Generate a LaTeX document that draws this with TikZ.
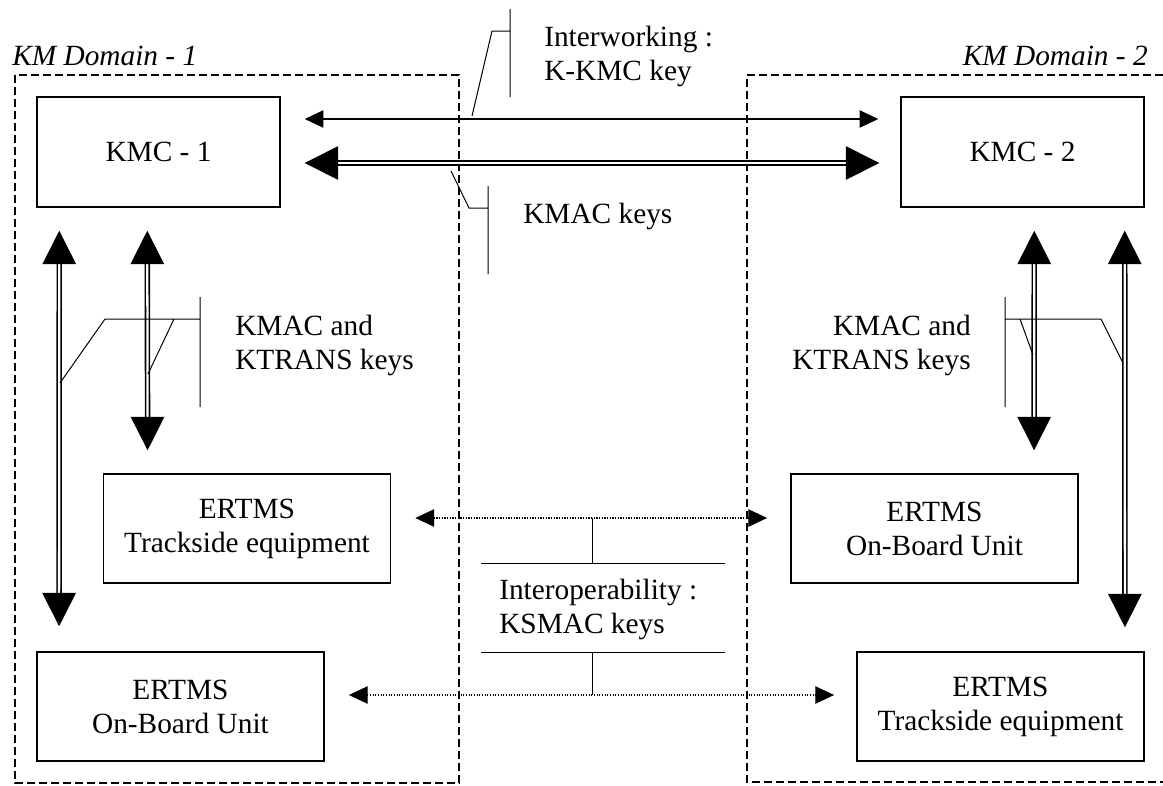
\documentclass[tikz,border=0pt]{standalone}
\usepackage{fontspec}
\setmainfont{Liberation Serif}
\usetikzlibrary{arrows.meta,calc}

\begin{document}
\begin{tikzpicture}[x=0.75pt,y=-0.75pt,
        every node/.style={font=\fontsize{22}{25.5}\selectfont,inner sep=0pt},
        kmc/.style={draw,line width=1.1pt,minimum width=182.25pt,minimum height=82.5pt},
        ertms/.style={draw,line width=1.1pt,minimum width=215.5pt,minimum height=81.75pt,align=center},
        kmdomain/.style={line width=1pt,dash pattern=on 6pt off 3pt},
        lead/.style={line width=0.75pt},
        keyarrow/.style={{Triangle[length=14pt,width=13pt]}-{Triangle[length=14pt,width=13pt]},line width=0.8pt},
        bigarrow/.style={{Triangle[length=25pt,width=25pt]}-{Triangle[length=25pt,width=25pt]},line width=1.2pt,double,double distance=1.7pt},
        airarrow/.style={keyarrow,dash pattern=on 0.8pt off 1.2pt}]

            \useasboundingbox (0,0) rectangle (1163,785);

            \draw[kmdomain] (15,75) rectangle (459,783);

            \draw[kmdomain] (1163,75) -- (747,75) -- (747,782) -- (1163,782);

            \node[anchor=base west,font=\fontsize{22}{25.5}\selectfont\itshape] (dom1) at (12,65) {KM Domain - 1};

            \node[anchor=base east,font=\fontsize{22}{25.5}\selectfont\itshape] (dom2) at (1148,65) {KM Domain - 2};

            \node[kmc] (kmc1) at (158.5,152) {KMC - 1};

            \node[kmc] (kmc2) at (1022.5,152) {KMC - 2};

            \node[ertms] (rbc1) at (247,528.5) {ERTMS\\Trackside equipment};

            \node[ertms] (obu2) at (934.5,528.5) {ERTMS\\On-Board Unit};

            \node[ertms] (obu1) at (180.5,706.5) {ERTMS\\On-Board Unit};

            \node[ertms] (rbc2) at (1000.5,706.5) {ERTMS\\Trackside equipment};

            \node[anchor=base west,align=left] (kkmc) at (544,80) {Interworking :\\K-KMC key};

            \node[anchor=base west] (kmac) at (523,223) {KMAC keys};

            \node[anchor=base west,align=left] (ktrans1) at (235,369) {KMAC and\\KTRANS keys};

            \node[anchor=base east,align=right] (ktrans2) at (971,369) {KMAC and\\KTRANS keys};

            \node[anchor=base west,align=left] (ksmac) at (499,633) {Interoperability :\\KSMAC keys};

            \draw[keyarrow] ($(kmc1.east)+(24,-33)$) -- ($(kmc2.west)+(-22,-33)$);

            \draw[bigarrow] ($(kmc1.east)+(24,11)$) -- ($(kmc2.west)+(-21,11)$);

            \draw[bigarrow] ($(kmc1.south west)+(23,23)$) -- ($(obu1.north west)+(23,-25)$);

            \draw[bigarrow] ($(kmc1.south west)+(111,23)$) -- ($(rbc1.north west)+(45,-23)$);

            \draw[bigarrow] ($(kmc2.south west)+(134,23)$) -- ($(obu2.north west)+(244,-23)$);

            \draw[bigarrow] ($(kmc2.south east)+(-20,23)$) -- ($(rbc2.north east)+(-20,-24)$);

            \draw[airarrow] ($(rbc1.east)+(24,-10.5)$) -- ($(obu2.west)+(-23,-10.5)$);

            \draw[airarrow] ($(obu1.east)+(24,-11.5)$) -- ($(rbc2.west)+(-22,-11.5)$);

            \draw[lead] (510,9) -- (510,97)
                        (510,31) -- (492,31) -- (472,116);

            \draw[lead] (488,186) -- (488,274)
                        (488,208) -- (469,208) -- (451,171);

            \draw[lead] (200,297) -- (200,407)
                        (200,319) -- (174,319) -- (148,374)
                        (174,319) -- (105,319) -- (60,383);

            \draw[lead] (1005,297) -- (1005,407)
                        (1005,319) -- (1101,319) -- (1123,363)
                        (1020,319) -- (1033,355);

            \draw[lead] (592,518) -- (592,563)
                        (481,563) -- (725,563)
                        (481,652) -- (725,652)
                        (592,652) -- (592,695);

        \end{tikzpicture}
\end{document}
